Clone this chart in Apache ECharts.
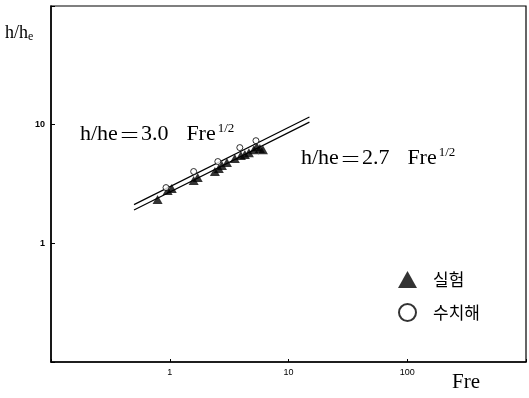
<!DOCTYPE html>
<html>
<head>
<meta charset="utf-8">
<script src="https://cdn.jsdelivr.net/npm/echarts@6/dist/echarts.min.js"></script>
<style>html,body{margin:0;padding:0;background:#fff;}#c{width:529px;height:398px;}</style>
</head>
<body>
<div id="c"></div>
<script>
// Experiment (실험) - triangles
const freExp = [0.79, 0.96, 1.04, 1.59, 1.72, 2.40, 2.59, 2.75, 3.03, 3.53, 3.97, 4.29, 4.64, 5.11, 5.41, 5.74, 6.09];
const hheExp = [2.34, 2.79, 2.90, 3.38, 3.59, 4.03, 4.27, 4.52, 4.79, 5.18, 5.49, 5.60, 5.81, 6.16, 6.53, 6.29, 6.16];
// Numerical (수치해) - open circles
const freNum = [0.93, 1.59, 2.54, 3.89, 5.32];
const hheNum = [2.95, 4.03, 4.89, 6.41, 7.33];
// Fit lines (end points)
const lineFre = [0.5, 15];
const lineUpper = [2.12, 11.6];  // h/he = 3.0 Fre^1/2
const lineLower = [1.91, 10.5];  // h/he = 2.7 Fre^1/2
const xTickLabels = ['1', '10', '100'];
const yTickLabels = ['1', '10'];

const zip = (a, b) => a.map((v, i) => [v, b[i]]);
const chart = echarts.init(document.getElementById('c'));
const serif = '"Liberation Serif","DejaVu Serif",serif';
const kr = '"Noto Sans CJK KR",sans-serif';

const eqRich = {
  t: { fontSize: 22, fontFamily: serif, color: '#000' },
  e: { fontSize: 21, fontFamily: kr, fontWeight: 300, color: '#000', padding: [0, 1, 0, 1] },
  g: { width: 18 },
  p: { fontSize: 13, fontFamily: serif, color: '#000', padding: [0, 0, 12, 2] }
};

chart.setOption({
  animation: false,
  backgroundColor: '#fff',
  grid: { left: 51, right: 1, top: 6, bottom: 36, show: true, borderColor: '#000', borderWidth: 1.2 },
  xAxis: {
    type: 'log', min: 0.1, max: 1000, logBase: 10,
    axisLine: { lineStyle: { color: '#000', width: 1.5 } },
    axisTick: { inside: true, length: 3, lineStyle: { color: '#000' } },
    splitLine: { show: false },
    axisLabel: { color: '#000', fontSize: 9, margin: 6, fontFamily: 'Liberation Sans',
      formatter: v => { const s = String(Math.round(v)); return (v >= 1 && xTickLabels.includes(s)) ? s : ''; } }
  },
  yAxis: {
    type: 'log', min: 0.1, max: 100, logBase: 10,
    axisLine: { lineStyle: { color: '#000', width: 1.5 } },
    axisTick: { inside: true, length: 4, lineStyle: { color: '#000' } },
    splitLine: { show: false },
    axisLabel: { color: '#000', fontSize: 9, margin: 6, fontWeight: 'bold', fontFamily: 'Liberation Sans',
      formatter: v => { const s = String(Math.round(v)); return (v >= 1 && yTickLabels.includes(s)) ? s : ''; } }
  },
  legend: {
    orient: 'vertical', left: 398, top: 271, padding: 0, itemWidth: 19, itemHeight: 17, itemGap: 15,
    textStyle: { fontSize: 17, color: '#000', fontFamily: kr, padding: [0, 0, 0, 11] },
    data: [
      { name: '실험', icon: 'triangle' },
      { name: '수치해', icon: 'circle' }
    ]
  },
  series: [
    { type: 'line', data: zip(lineFre, lineUpper), symbol: 'none', lineStyle: { color: '#000', width: 1.2 }, silent: true },
    { type: 'line', data: zip(lineFre, lineLower), symbol: 'none', lineStyle: { color: '#000', width: 1.2 }, silent: true },
    { name: '실험', type: 'scatter', data: zip(freExp, hheExp), symbol: 'triangle', symbolSize: [10, 9],
      itemStyle: { color: '#000' }, z: 5 },
    { name: '수치해', type: 'scatter', data: zip(freNum, hheNum), symbol: 'circle', symbolSize: 6,
      itemStyle: { color: '#fff', borderColor: '#000', borderWidth: 1 }, z: 6 }
  ],
  graphic: [
    { type: 'text', left: 5, top: 24, style: { text: 'h/h{s|e}', fill: '#000', font: '18px ' + serif,
      rich: { s: { fontSize: 12, fontFamily: serif, padding: [8, 0, 0, 0] } } } },
    { type: 'text', left: 452, top: 372, style: { text: 'Fre', fill: '#000', font: '21px ' + serif } },
    { type: 'text', left: 80, top: 122, style: { text: '{t|h/he}{e|\uFF1D}{t|3.0}{g|}{t|Fre}{p|1/2}', rich: eqRich } },
    { type: 'text', left: 301, top: 146, style: { text: '{t|h/he}{e|\uFF1D}{t|2.7}{g|}{t|Fre}{p|1/2}', rich: eqRich } }
  ]
});
</script>
</body>
</html>
